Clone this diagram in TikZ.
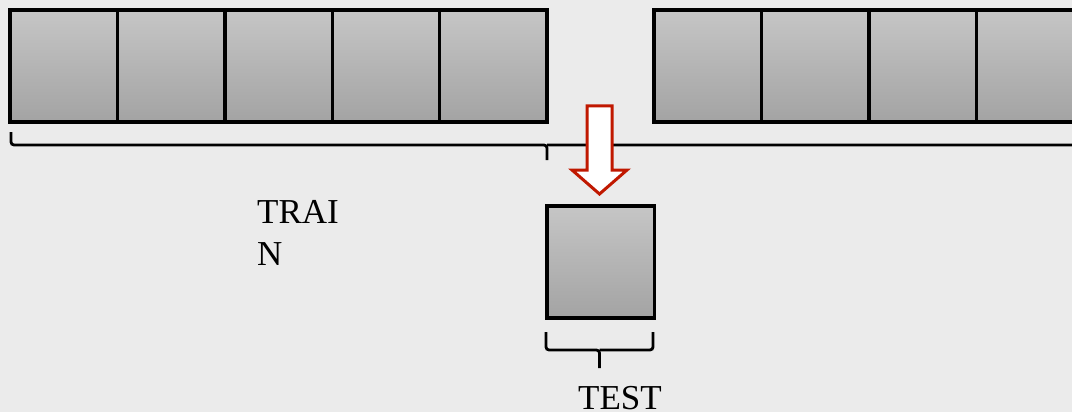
\documentclass[tikz,border=0pt]{standalone}
\usepackage{fontspec}
\setmainfont{Liberation Serif}
\begin{document}
\begin{tikzpicture}[x=1pt,y=-1pt,
  cell/.style={draw=black,line width=3.4pt,top color=gray!45,bottom color=gray!72,minimum width=107.4pt,minimum height=112pt,inner sep=0pt,outer sep=0pt,anchor=north west},
  bracepath/.style={draw=black,line width=2.8pt,rounded corners=3pt},
  lbl/.style={font=\fontsize{35}{42}\selectfont,inner sep=0pt,align=left}]
\fill[gray!16] (0,0) rectangle (1072,412);
\useasboundingbox (0,0) rectangle (1072,412);
% left row
\foreach \i in {0,...,4}{
  \node[cell] (L\i) at ({10+107.4*\i},10) {};
}
% right row
\foreach \i in {0,...,3}{
  \node[cell] (R\i) at ({654+107.4*\i},10) {};
}
% test box
\node[cell] (T) at (547,206) {};
% big brace
\coordinate (b1) at (11,132);
\coordinate (b2) at (1090,132);
\coordinate (bm) at (547,160);
\draw[bracepath] (b1) |- (547,145) -- (bm);
\draw[bracepath] (547,145) -| (b2);
% small brace
\coordinate (s1) at (546,332);
\coordinate (s2) at (653,332);
\coordinate (sm) at (599.5,368);
\draw[bracepath] (s1) |- (599.5,350) -- (sm);
\draw[bracepath] (599.5,350) -| (s2);
% block arrow
\draw[draw={rgb,255:red,192;green,24;blue,0},fill=white,line width=3pt,line join=miter]
  (587,106) -- (612,106) -- (612,170) -- (627,170) -- (599.5,194) -- (572,170) -- (587,170) -- cycle;
% labels
\node[lbl,anchor=base west] (train) at (257,265) {TRAI\\N};
\node[lbl,anchor=base] (test) at (620,409) {TEST};
\end{tikzpicture}
\end{document}
